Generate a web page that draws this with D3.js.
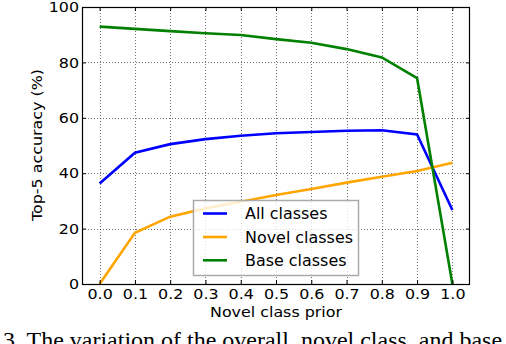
<!DOCTYPE html>
<html><head><meta charset="utf-8">
<script src="https://cdn.jsdelivr.net/npm/d3@7"></script>
<style>
html,body{margin:0;padding:0;background:#fff;overflow:hidden;}
svg{display:block;}
</style></head>
<body>
<svg id="chart" width="506" height="344"></svg>
<script>
const priors = [0.0,0.1,0.2,0.3,0.4,0.5,0.6,0.7,0.8,0.9,1.0];
const allClasses   = [36.3,47.4,50.5,52.3,53.5,54.4,54.9,55.3,55.5,54.0,26.7];
const novelClasses = [0.0,18.5,24.3,27.3,29.7,32.1,34.3,36.6,38.7,40.8,43.8];
const baseClasses  = [92.9,92.1,91.3,90.5,89.9,88.4,87.1,84.8,81.8,74.3,0.0];
const seriesNames  = ["All classes","Novel classes","Base classes"];
const seriesColors = ["#0000ff","#ffa500","#008000"];
const xTicks = [0.0,0.1,0.2,0.3,0.4,0.5,0.6,0.7,0.8,0.9,1.0];
const yTicks = [0,20,40,60,80,100];

const SANS = "'DejaVu Sans','Bitstream Vera Sans',Verdana,sans-serif";
const SERIF = "'Liberation Serif','Times New Roman',serif";

const svg = d3.select("#chart");
const L = 82, R = 470, T = 7, B = 284;
const x = d3.scaleLinear().domain([-0.05,1.05]).range([L,R]);
const y = d3.scaleLinear().domain([0,100]).range([B,T]);

const FS = 14.5, LFS = 15.5;
function natural(str, family, size){
  const t = svg.append("text").style("font-family",family).style("font-size",size+"px").text(str);
  const w = t.node().getComputedTextLength();
  t.remove();
  return w;
}
// horizontal stretch so the sans texts take the widths seen in the reference
const K  = 132 / natural("Novel class prior", SANS, FS);
const KL = 108 / natural("Novel classes", SANS, LFS);
function widen(sel, size, k){
  sel.each(function(){
    const w = natural(this.textContent, SANS, size);
    if (w > 0) d3.select(this).attr("textLength", w*k).attr("lengthAdjust","spacingAndGlyphs");
  });
}
const CFS = 100*410/natural("3. The variation of the overall, novel class, ", SERIF, 100);

// grid
const g = svg.append("g");
g.selectAll(".vg").data(xTicks).enter().append("line")
  .attr("x1",d=>Math.round(x(d))+0.5).attr("x2",d=>Math.round(x(d))+0.5)
  .attr("y1",T).attr("y2",B)
  .attr("stroke","#000").attr("stroke-width",0.7).attr("stroke-dasharray","1,2").attr("opacity",0.8);
g.selectAll(".hg").data(yTicks).enter().append("line")
  .attr("y1",d=>Math.round(y(d))+0.5).attr("y2",d=>Math.round(y(d))+0.5)
  .attr("x1",L).attr("x2",R)
  .attr("stroke","#000").attr("stroke-width",0.7).attr("stroke-dasharray","1,2").attr("opacity",0.8);

// series
const data = [allClasses, novelClasses, baseClasses];
svg.append("clipPath").attr("id","clip").append("rect")
  .attr("x",L).attr("y",T).attr("width",R-L).attr("height",B-T);
const line = d3.line().x((d,i)=>x(priors[i])).y(d=>y(d));
svg.append("g").attr("clip-path","url(#clip)").selectAll("path").data(data).enter().append("path")
  .attr("d",line).attr("fill","none")
  .attr("stroke",(d,i)=>seriesColors[i]).attr("stroke-width",2.6)
  .attr("stroke-linejoin","miter");

// axes with inner ticks
const xAxB = d3.axisBottom(x).tickValues(xTicks).tickFormat(d3.format(".1f")).tickSizeInner(-4).tickSizeOuter(0).tickPadding(5);
const xAxT = d3.axisTop(x).tickValues(xTicks).tickFormat("").tickSizeInner(-4).tickSizeOuter(0);
const yAxL = d3.axisLeft(y).tickValues(yTicks).tickFormat(d3.format("d")).tickSizeInner(-4).tickSizeOuter(0).tickPadding(3);
const yAxR = d3.axisRight(y).tickValues(yTicks).tickFormat("").tickSizeInner(-4).tickSizeOuter(0);

function style(sel){
  sel.attr("font-family",null).attr("font-size",null);
  sel.select(".domain").remove();
  sel.selectAll("line").attr("stroke","#000").attr("stroke-width",1);
  sel.selectAll("text").style("font-family",SANS).style("font-size",FS+"px").attr("fill","#000");
  widen(sel.selectAll("text"), FS, K);
}
svg.append("g").attr("transform",`translate(0,${B})`).call(xAxB).call(style);
svg.append("g").attr("transform",`translate(0,${T})`).call(xAxT).call(style);
svg.append("g").attr("transform",`translate(${L},0)`).call(yAxL).call(style);
svg.append("g").attr("transform",`translate(${R},0)`).call(yAxR).call(style);

// frame
svg.append("rect").attr("x",L+0.5).attr("y",T+0.5).attr("width",R-L-1).attr("height",B-T)
  .attr("fill","none").attr("stroke","#000").attr("stroke-width",1.2);

// axis titles
svg.append("text").attr("x",276).attr("y",317).attr("text-anchor","middle")
  .style("font-family",SANS).style("font-size",FS+"px").text("Novel class prior").call(s=>widen(s,FS,K));
svg.append("text").attr("transform",`translate(42,145) rotate(-90)`).attr("text-anchor","middle")
  .style("font-family",SANS).style("font-size",FS+"px").text("Top-5 accuracy (%)").call(s=>widen(s,FS,K));

// legend
const lg = svg.append("g");
lg.append("rect").attr("x",193.5).attr("y",200.5).attr("width",165).attr("height",75)
  .attr("fill","#fff").attr("fill-opacity",0.8).attr("stroke","#aaa").attr("stroke-width",1.5);
const rowsY = [213.5,237,260.3];
seriesNames.forEach((n,i)=>{
  lg.append("line").attr("x1",203).attr("x2",227).attr("y1",rowsY[i]).attr("y2",rowsY[i])
    .attr("stroke",seriesColors[i]).attr("stroke-width",2.6);
  lg.append("text").attr("x",245).attr("y",rowsY[i]+5.7)
    .style("font-family",SANS).style("font-size",LFS+"px").text(n).call(s=>widen(s,LFS,KL));
});

// caption (cut off at the bottom, as in the reference)
svg.append("text").attr("x",3).attr("y",331.7 + 0.662*CFS).style("font-family",SERIF).style("font-size",CFS+"px")
  .text("3. The variation of the overall, novel class, and base class accuracy");
</script>
</body></html>
